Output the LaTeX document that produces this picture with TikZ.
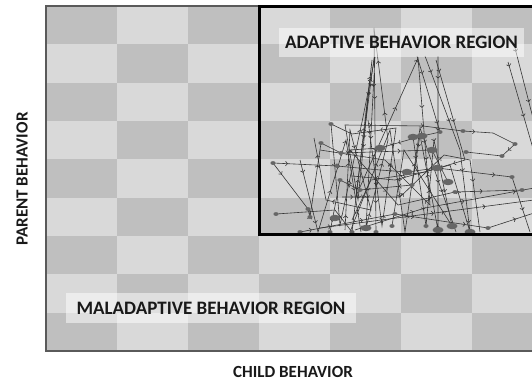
\documentclass[tikz,border=0pt]{standalone}
\usepackage{fontspec}
\setmainfont{Carlito}
\usetikzlibrary{arrows.meta,decorations.markings}
\definecolor{cellDark}{HTML}{BFBFBF}
\definecolor{cellLight}{HTML}{D9D9D9}
\definecolor{trajGray}{HTML}{353535}
\definecolor{dotGray}{HTML}{666666}
\definecolor{frameGray}{HTML}{5A5A5A}

\begin{document}
\begin{tikzpicture}[x=1pt,y=-1pt,
  traj/.style={draw=trajGray,line width=.6pt,postaction={decorate},
    decoration={markings,mark=between positions 0.05 and 1 step 52pt with {\arrow{Straight Barb[length=2pt,width=4.5pt]}}}},
  dot/.style={fill=dotGray},
  regionbox/.style={fill=white,fill opacity=.5,text opacity=1,text=black!90,inner sep=0pt,
    font=\fontsize{19}{22}\selectfont\bfseries},
  axislabel/.style={inner sep=0pt,text=black!90,font=\fontsize{17}{20}\selectfont\bfseries}]
\useasboundingbox (0,0) rectangle (532,383);
% checkerboard
\foreach \i in {0,...,6}
  \foreach \j in {0,...,8}{
    \pgfmathtruncatemacro\k{\i+\j}
    \ifodd\k \def\cellcol{cellLight}\else\def\cellcol{cellDark}\fi
    \fill[\cellcol] ({46+71*\i},{6+38.33*\j}) rectangle ++(71,38.33);
  }
\draw[frameGray,line width=1.2pt] (46,6) rectangle (543,351);
% trajectories
\draw[traj] (273,163) -- (308,209) -- (310,217) -- (321,143) -- (341,153) -- (432,150) -- (447,180) -- (448,182);
\draw[traj] (276,214) -- (335,210) -- (352,232) -- (372,60) -- (358,200) -- (345,125) -- (423,126) -- (463,131) -- (493,133) -- (515,144) -- (502,156) -- (466,152);
\draw[traj] (273,163) -- (337,166) -- (380,170) -- (407,172) -- (437,168) -- (512,177) -- (530,232);
\draw[traj] (331,124) -- (340,225) -- (362,122) -- (375,57) -- (366,228) -- (388,140) -- (374,28) -- (376,232);
\draw[traj] (417,56) -- (440,132) -- (422,136) -- (380,148) -- (350,150) -- (398,205) -- (455,192) -- (522,190);
\draw[traj] (438,56) -- (438,230) -- (420,135) -- (412,185) -- (360,190) -- (340,180) -- (330,232);
\draw[traj] (425,56) -- (460,150) -- (470,232) -- (450,165) -- (395,180) -- (352,176);
\draw[traj] (515,48) -- (534,122);
\draw[traj] (508,62) -- (534,152);
\draw[traj] (300,232) -- (395,214) -- (488,228) -- (534,213);
\draw[traj] (320,228) -- (534,200);
\draw[traj] (350,232) -- (390,130) -- (405,232) -- (420,128) -- (456,232);
\draw[traj] (355,230) -- (425,208) -- (480,198) -- (534,188);
\draw[traj] (342,197) -- (400,197) -- (444,155) -- (470,160) -- (480,232);
\draw[traj] (368,120) -- (382,226) -- (396,128) -- (352,134) -- (331,124);
\draw[traj] (300,160) -- (318,232) -- (346,140) -- (361,232);
\draw[traj] (374,58) -- (356,196) -- (418,58) -- (430,205) -- (385,160) -- (320,150);
\draw[traj] (413,137) -- (426,226) -- (434,140) -- (452,226) -- (404,150) -- (392,226);
\draw[traj] (345,230) -- (350,130) -- (371,210) -- (326,200) -- (314,138);
\draw[traj] (436,60) -- (465,160) -- (425,172) -- (371,180) -- (352,220);
% visits
\foreach \x/\y in {273/163,276/214,308/209,310/217,321/143,341/153,331/124,337/166,
  463/131,515/144,502/156,466/152,455/192,522/190,488/228,300/232,330/232,
  352/232,376/232,395/214,412/185,360/190,340/180,440/132,512/177,426/226,392/226}
  \fill[dot] (\x,\y) ellipse (2.6 and 1.9);
\foreach \x/\y in {422/136,448/182,407/172,335/218,438/230,366/228,470/232,
  432/150,380/148,437/168,413/137,452/226}
  \fill[dot] (\x,\y) ellipse (5.5 and 3.2);
% regions
\draw[black,line width=3pt] (259,6) rectangle (545,234);
\node[regionbox,minimum width=245,minimum height=29] (adaptive) at (401.5,42.5) {ADAPTIVE BEHAVIOR REGION};
\node[regionbox,minimum width=290,minimum height=30] (maladaptive) at (211,308) {MALADAPTIVE BEHAVIOR REGION};
% axes
\node[axislabel,rotate=90] (parent) at (22,179) {PARENT BEHAVIOR};
\node[axislabel] (child) at (293,372) {CHILD BEHAVIOR};
\end{tikzpicture}
\end{document}
